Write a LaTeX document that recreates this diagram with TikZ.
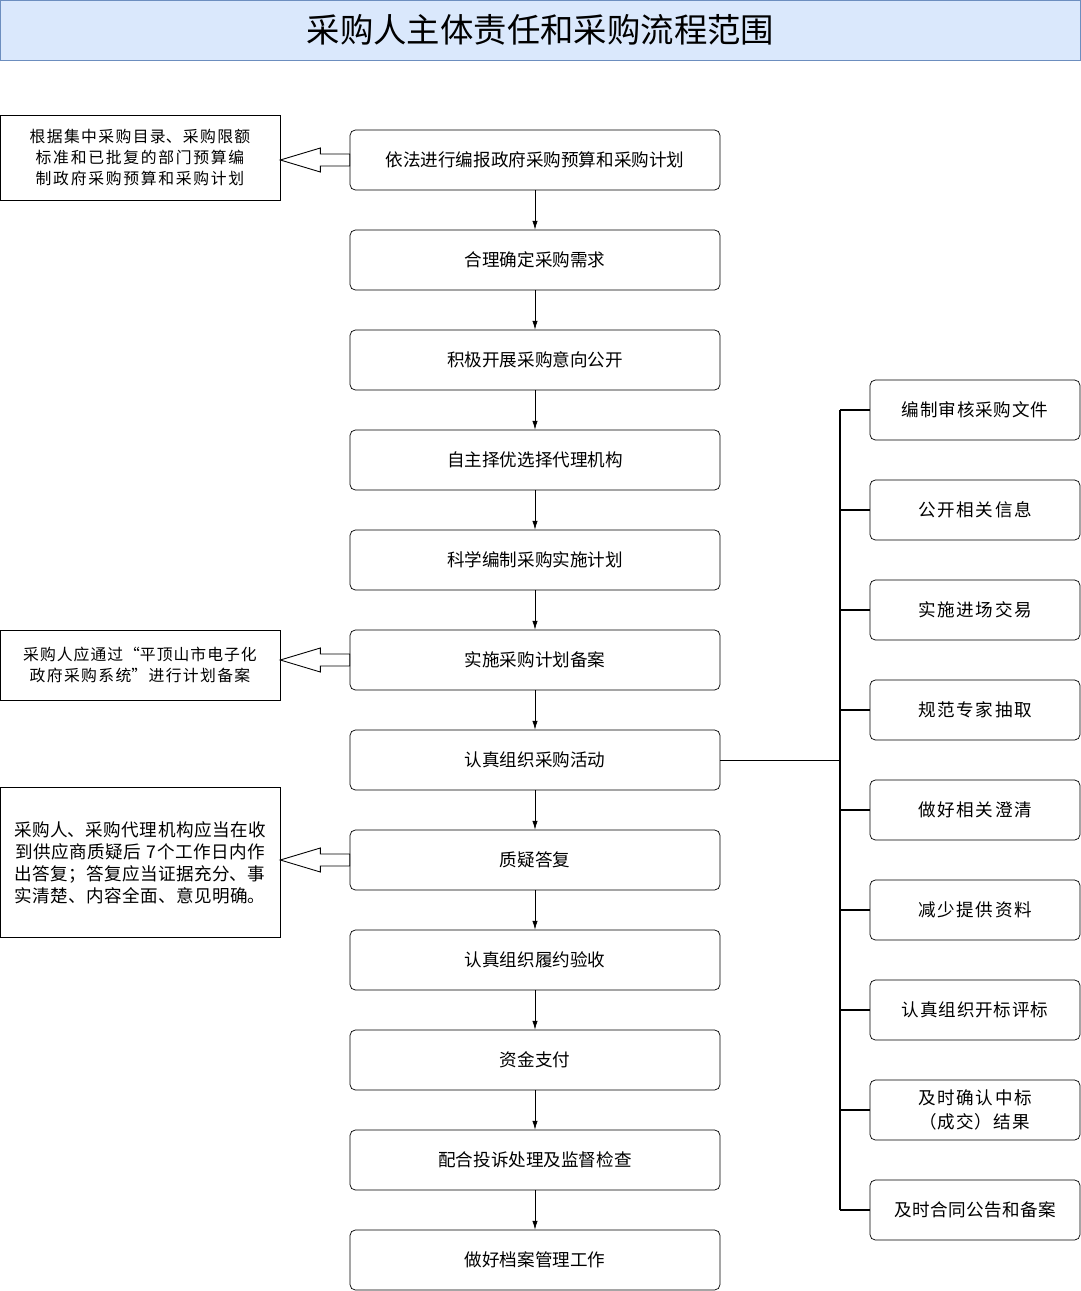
\documentclass[tikz,border=0pt]{standalone}
\usepackage{fontspec}
\setmainfont{Noto Sans CJK SC}
\XeTeXlinebreaklocale "zh"
\XeTeXlinebreakskip = 0pt plus 1pt
\usetikzlibrary{positioning,arrows.meta,calc}
\definecolor{titlefill}{HTML}{DAE8FC}
\definecolor{titledraw}{HTML}{6C8EBF}
\tikzset{
  stepbox/.style = {draw, rounded corners = 3pt, minimum width = 7.4cm, minimum height = 1.2cm, font = \fontsize{10}{12}\selectfont, align = center},
  sidebox/.style = {draw, rounded corners = 3pt, minimum width = 4.2cm, minimum height = 1.2cm, text width = 3.6cm, font = \fontsize{10}{14}\selectfont, align = center},
  notebox/.style = {draw, minimum width = 5.6cm, text width = 5.4cm, font = \fontsize{9}{12}\selectfont, align = center, inner sep = 1pt},
  hollow/.style = {draw, fill = white, line width = 0.5pt}
}
% hollow arrow pointing left, tip at #2, tail at #1
\newcommand{\hollowarrow}[2]{%
  \draw [hollow] let \p1 = (#1), \p2 = (#2) in
    (\x1, \y1 + 0.12cm) -- (\x2 + 0.8cm, \y1 + 0.12cm) -- (\x2 + 0.8cm, \y1 + 0.24cm) -- (\x2, \y1)
    -- (\x2 + 0.8cm, \y1 - 0.24cm) -- (\x2 + 0.8cm, \y1 - 0.12cm) -- (\x1, \y1 - 0.12cm) -- cycle;}
\begin{document}
\begin{tikzpicture}[> = {Latex[length = 5pt, width = 3pt]}, x = 0.02cm, y = -0.02cm]

	\useasboundingbox (0, 0) rectangle (1081, 1291);

	% Title

	\node [draw = titledraw, fill = titlefill, minimum width = 21.6cm, minimum height = 1.2cm, font = \fontsize{19}{22}\selectfont] (title) at (540.5, 30) {采购人主体责任和采购流程范围};

	% Main steps

	\foreach \i/\txt in {1/依法进行编报政府采购预算和采购计划, 2/合理确定采购需求, 3/积极开展采购意向公开, 4/自主择优选择代理机构, 5/科学编制采购实施计划, 6/实施采购计划备案, 7/认真组织采购活动, 8/质疑答复, 9/认真组织履约验收, 10/资金支付, 11/配合投诉处理及监督检查, 12/做好档案管理工作}
		\node [stepbox] (s\i) at (535, 60 + 100 * \i) {\txt};

	\foreach \i [evaluate = \i as \j using int(\i + 1)] in {1, ..., 11}
		\draw [->] (s\i) -- (s\j);

	% Sub steps of the procurement activity

	\foreach \i/\txt in {1/编制审核采购文件, 2/公开相关信息, 3/实施进场交易, 4/规范专家抽取, 5/做好相关澄清, 6/减少提供资料, 7/认真组织开标评标, 8/及时确认中标（成交）结果, 9/及时合同公告和备案}
		\node [sidebox] (r\i) at (975, 310 + 100 * \i) {\txt};

	\coordinate (bus) at (840, 760);
	\draw [line width = 0.8pt] (840, 410) -- (840, 1210);
	\draw (s7.east) -- (bus);
	\foreach \i in {1, ..., 9}
		\draw [line width = 1pt] (r\i.west) -- (r\i.west -| bus);

	% Notes on the left

	\node [notebox, minimum height = 1.7cm] (n1) at (140, 157.5) {根据集中采购目录、采购限额标准和已批复的部门预算编制政府采购预算和采购计划};
	\node [notebox, minimum height = 1.4cm] (n2) at (140, 665) {采购人应通过“平顶山市电子化政府采购系统”进行计划备案};
	\node [notebox, minimum height = 3cm, font = \fontsize{10}{12.5}\selectfont] (n3) at (140, 862.5) {采购人、采购代理机构应当在收到供应商质疑后 7个工作日内作出答复；答复应当证据充分、事实清楚、内容全面、意见明确。};

	\hollowarrow{s1.west}{n1.east}
	\hollowarrow{s6.west}{n2.east}
	\hollowarrow{s8.west}{n3.east}

\end{tikzpicture}
\end{document}
